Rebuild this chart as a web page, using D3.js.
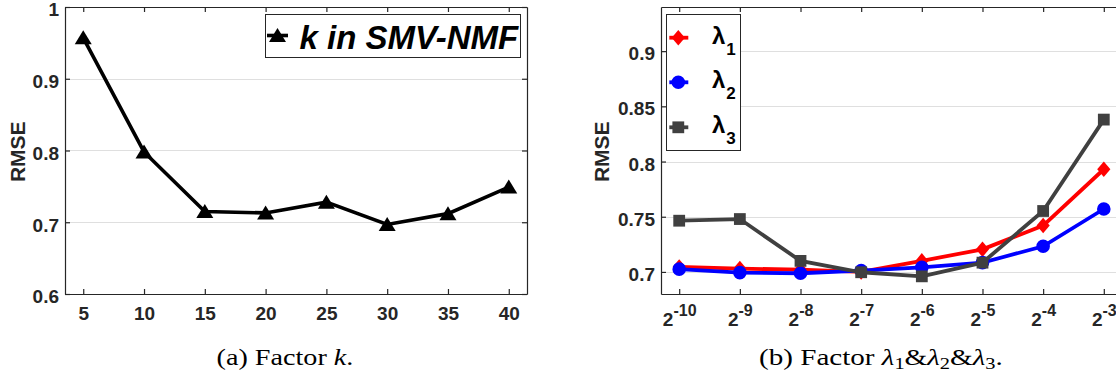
<!DOCTYPE html>
<html>
<head>
<meta charset="utf-8">
<script src="https://cdn.jsdelivr.net/npm/d3@7"></script>
<style>
  html, body { margin: 0; padding: 0; background: #fff; }
  svg { display: block; }
</style>
</head>
<body>
<svg id="fig" width="1116" height="376"></svg>
<script>
// ---- panel (a): RMSE versus rank k ----
const kValues = [5, 10, 15, 20, 25, 30, 35, 40];
const rmseK = [0.957, 0.798, 0.715, 0.713, 0.728, 0.697, 0.712, 0.749];
const yTicksK = [0.6, 0.7, 0.8, 0.9, 1];
const yTickLabelsK = ["0.6", "0.7", "0.8", "0.9", "1"];
const legendLabelK = "k in SMV-NMF";

// ---- panel (b): RMSE versus regularisation factors (log2 scale) ----
const lambdaExponents = [-10, -9, -8, -7, -6, -5, -4, -3];
const rmseLambda1 = [0.7045, 0.703, 0.702, 0.700, 0.710, 0.7205, 0.742, 0.793];
const rmseLambda2 = [0.7025, 0.6994, 0.6988, 0.7012, 0.7042, 0.7084, 0.7232, 0.757];
const rmseLambda3 = [0.7464, 0.7479, 0.710, 0.6997, 0.696, 0.7084, 0.7552, 0.838];
const yTicksLambda = [0.7, 0.75, 0.8, 0.85, 0.9];
const yTickLabelsLambda = ["0.7", "0.75", "0.8", "0.85", "0.9"];
const lambdaSeries = [
  { sub: "1", values: rmseLambda1, color: "#ff0000", marker: "diamond" },
  { sub: "2", values: rmseLambda2, color: "#0000ff", marker: "circle" },
  { sub: "3", values: rmseLambda3, color: "#404040", marker: "square" }
];

const AXIS = "#262626", GRID = "#dfdfdf";
const SANS = "'Liberation Sans', Arial, Helvetica, sans-serif";
const SERIF = "'Liberation Serif', 'Times New Roman', serif";
const svg = d3.select("#fig");
svg.append("rect").attr("width", 1116).attr("height", 376).attr("fill", "#fff");

function markerPath(kind) {
  switch (kind) {
    case "triangle": return "M0,-7.5L8.5,6.5L-8.5,6.5Z";
    case "diamond": return "M0,-7.8L6.6,0L0,7.8L-6.6,0Z";
    case "square": return "M-5.9,-5.9H5.9V5.9H-5.9Z";
    default: return d3.symbol(d3.symbolCircle, Math.PI * 6.8 * 6.8)();
  }
}

// Box-style axes with inward ticks on all four sides and horizontal grid
function drawFrame(g, x, y, xTicks, yTicks, yLabels, opts) {
  const [x0, x1] = x.range();
  const [y1, y0] = y.range();
  g.append("g").selectAll("line").data(yTicks).join("line")
    .attr("x1", x0).attr("x2", x1)
    .attr("y1", d => Math.round(y(d)) + 0.5).attr("y2", d => Math.round(y(d)) + 0.5)
    .attr("stroke", GRID).attr("stroke-width", 1);

  const styleAxis = sel => {
    sel.attr("font-size", null).attr("font-family", null);
    sel.selectAll("path.domain").attr("stroke", AXIS).attr("stroke-width", 1.2);
    sel.selectAll(".tick line").attr("stroke", AXIS).attr("stroke-width", 1.2);
    sel.selectAll(".tick text").attr("fill", AXIS)
      .style("font-family", SANS).style("font-weight", "bold").style("font-size", "19px");
  };

  const lab = new Map(yTicks.map((t, i) => [t, yLabels[i]]));
  const gl = g.append("g").attr("transform", `translate(${x0},0)`)
    .call(d3.axisLeft(y).tickValues(yTicks).tickSize(-5).tickSizeOuter(0)
      .tickPadding(opts.yPad).tickFormat(d => lab.get(d)));
  styleAxis(gl);
  gl.selectAll(".tick text").attr("dy", opts.yDy);

  const gr = g.append("g").attr("transform", `translate(${x1},0)`)
    .call(d3.axisRight(y).tickValues(yTicks).tickSize(-5).tickSizeOuter(0).tickFormat(""));
  styleAxis(gr);

  const gt = g.append("g").attr("transform", `translate(0,${y0})`)
    .call(d3.axisTop(x).tickValues(xTicks).tickSize(-5).tickSizeOuter(0).tickFormat(""));
  styleAxis(gt);

  const gb = g.append("g").attr("transform", `translate(0,${y1})`)
    .call(d3.axisBottom(x).tickValues(xTicks).tickSize(-5).tickSizeOuter(0).tickFormat(opts.xFormat || null));
  styleAxis(gb);
  return gb;
}

function yTitle(g, cx, cy) {
  g.append("text").attr("transform", `translate(${cx},${cy}) rotate(-90)`)
    .attr("text-anchor", "middle").attr("dy", "0.36em")
    .style("font-family", SANS).style("font-weight", "bold").style("font-size", "21px")
    .attr("fill", AXIS).text("RMSE");
}

// stretch a caption so that it spans [xa, xb]
function fitWidth(sel, xa, xb) {
  const bb = sel.node().getBBox();
  const sx = (xb - xa) / bb.width;
  sel.attr("transform", `translate(${xa},0) scale(${sx},1) translate(${-bb.x},0)`);
}

// ---------------- panel (a) ----------------
{
  const g = svg.append("g");
  const x = d3.scaleLinear().domain([3.5, 41.5]).range([65, 527]);
  const y = d3.scaleLinear().domain([0.6, 1]).range([294, 7]);
  const gb = drawFrame(g, x, y, kValues, yTicksK, yTickLabelsK,
    { yPad: 6, yDy: "0.47em", xFormat: d3.format("d") });
  gb.selectAll(".tick text").attr("y", 26).attr("dy", 0);

  const pts = kValues.map((k, i) => [x(k), y(rmseK[i])]);
  g.append("path").attr("d", d3.line()(pts)).attr("fill", "none")
    .attr("stroke", "#000").attr("stroke-width", 3.6).attr("stroke-linejoin", "miter");
  g.append("g").selectAll("path").data(pts).join("path")
    .attr("transform", d => `translate(${d[0]},${d[1]})`)
    .attr("d", markerPath("triangle")).attr("fill", "#000");

  // legend
  const lg = g.append("g");
  lg.append("rect").attr("x", 265.5).attr("y", 14.5).attr("width", 255).attr("height", 43)
    .attr("fill", "#fff").attr("stroke", AXIS).attr("stroke-width", 1);
  lg.append("line").attr("x1", 267).attr("x2", 288).attr("y1", 35.5).attr("y2", 35.5)
    .attr("stroke", "#000").attr("stroke-width", 3.6);
  lg.append("path").attr("transform", "translate(277.5,35.5)").attr("d", markerPath("triangle"))
    .attr("fill", "#000");
  lg.append("text").attr("x", 299.5).attr("y", 49.3)
    .style("font-family", SANS).style("font-weight", "bold").style("font-style", "italic")
    .style("font-size", "33px").attr("fill", "#000").text(legendLabelK);

  yTitle(g, 17.5, 151.7);

  const cap = g.append("text").attr("y", 365).style("font-family", SERIF)
    .style("font-size", "23.5px").attr("fill", "#000");
  cap.append("tspan").text("(a) Factor ");
  cap.append("tspan").style("font-style", "italic").text("k");
  cap.append("tspan").text(".");
  fitWidth(cap, 216.6, 353.4);
}

// ---------------- panel (b) ----------------
{
  const g = svg.append("g");
  const x = d3.scaleLinear().domain([-10.3, -2.7]).range([661, 1122]);
  const y = d3.scaleLinear().domain([0.68, 0.94]).range([294, 7]);
  const gb = drawFrame(g, x, y, lambdaExponents, yTicksLambda, yTickLabelsLambda,
    { yPad: 6, yDy: "0.45em", xFormat: () => "" });
  gb.selectAll(".tick text").each(function (d) {
    const t = d3.select(this).attr("y", 32.4).attr("dy", 0).text(null);
    t.append("tspan").text("2");
    t.append("tspan").attr("dy", -10.5).style("font-size", "16px").text(String(d));
  });

  lambdaSeries.forEach(s => {
    const pts = lambdaExponents.map((e, i) => [x(e), y(s.values[i])]);
    g.append("path").attr("d", d3.line()(pts)).attr("fill", "none")
      .attr("stroke", s.color).attr("stroke-width", 3.8);
    g.append("g").selectAll("path").data(pts).join("path")
      .attr("transform", d => `translate(${d[0]},${d[1]})`)
      .attr("d", markerPath(s.marker)).attr("fill", s.color);
  });

  // legend
  const lg = g.append("g");
  lg.append("rect").attr("x", 666.5).attr("y", 14.5).attr("width", 74).attr("height", 136)
    .attr("fill", "#fff").attr("stroke", AXIS).attr("stroke-width", 1);
  const rows = [37.7, 82.3, 127.3];
  lambdaSeries.forEach((s, i) => {
    const ry = rows[i];
    lg.append("line").attr("x1", 669.3).attr("x2", 688.3).attr("y1", ry).attr("y2", ry)
      .attr("stroke", s.color).attr("stroke-width", 3.8);
    lg.append("path").attr("transform", `translate(678.3,${ry})`).attr("d", markerPath(s.marker))
      .attr("fill", s.color);
    const t = lg.append("text").attr("x", 712).attr("y", ry + 6)
      .style("font-family", SANS).style("font-weight", "bold").style("font-size", "24px")
      .attr("fill", "#000");
    t.append("tspan").text("λ");
    t.append("tspan").attr("dx", 1).attr("dy", 11).style("font-size", "17px").text(s.sub);
  });

  yTitle(g, 601.7, 151.7);

  const cap = g.append("text").attr("y", 365).style("font-family", SERIF)
    .style("font-size", "23.5px").attr("fill", "#000");
  cap.append("tspan").text("(b) Factor ");
  lambdaSeries.forEach((s, i) => {
    cap.append("tspan").style("font-style", "italic").text("λ");
    cap.append("tspan").style("font-size", "16.5px").attr("dy", 4).text(s.sub);
    cap.append("tspan").attr("dy", -4).text(i < 2 ? "&" : ".");
  });
  fitWidth(cap, 759, 1003);
}
</script>
</body>
</html>
